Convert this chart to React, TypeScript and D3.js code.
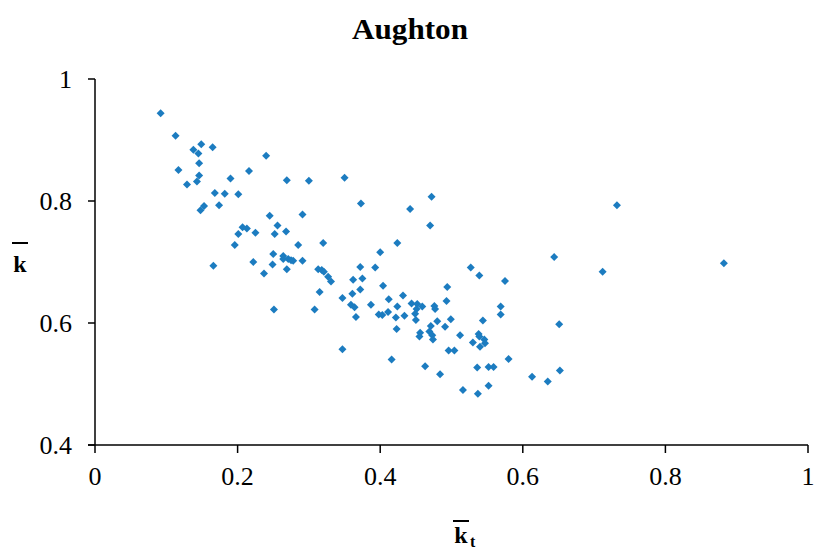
import React from "react";
import * as d3 from "d3";

const title = "Aughton";
const xTicks = [0, 0.2, 0.4, 0.6, 0.8, 1];
const yTicks = [0.4, 0.6, 0.8, 1];
const xTickLabels = ["0", "0.2", "0.4", "0.6", "0.8", "1"];
const yTickLabels = ["0.4", "0.6", "0.8", "1"];

const ktBar = [
  0.092, 0.113, 0.149, 0.138, 0.145, 0.165, 0.240, 0.146, 0.117, 0.216,
  0.146, 0.190, 0.143, 0.129, 0.168, 0.182, 0.201, 0.174, 0.153, 0.148,
  0.245, 0.256, 0.207, 0.213, 0.201, 0.225, 0.252, 0.269, 0.300, 0.350,
  0.373, 0.291, 0.268, 0.196, 0.285, 0.320, 0.400, 0.250, 0.264, 0.264,
  0.271, 0.275, 0.278, 0.222, 0.291, 0.249, 0.166, 0.269, 0.237, 0.372,
  0.393, 0.313, 0.318, 0.321, 0.327, 0.331, 0.362, 0.375, 0.372, 0.361,
  0.315, 0.347, 0.359, 0.364, 0.387, 0.398, 0.366, 0.251, 0.308, 0.472,
  0.442, 0.470, 0.424, 0.527, 0.539, 0.404, 0.494, 0.412, 0.432, 0.493,
  0.424, 0.444, 0.452, 0.459, 0.451, 0.449, 0.450, 0.476, 0.477, 0.403,
  0.411, 0.422, 0.434, 0.499, 0.480, 0.491, 0.471, 0.423, 0.456, 0.455,
  0.469, 0.473, 0.474, 0.512, 0.538, 0.539, 0.544, 0.569, 0.569, 0.530,
  0.546, 0.547, 0.540, 0.496, 0.504, 0.347, 0.416, 0.651, 0.463, 0.484,
  0.536, 0.552, 0.559, 0.580, 0.613, 0.635, 0.652, 0.516, 0.537, 0.552,
  0.732, 0.644, 0.712, 0.882, 0.575,
];

const kBar = [
  0.944, 0.907, 0.893, 0.884, 0.878, 0.888, 0.874, 0.862, 0.851, 0.849,
  0.842, 0.837, 0.832, 0.827, 0.813, 0.812, 0.811, 0.793, 0.792, 0.785,
  0.776, 0.760, 0.757, 0.755, 0.746, 0.748, 0.746, 0.834, 0.833, 0.838,
  0.796, 0.778, 0.750, 0.728, 0.728, 0.731, 0.716, 0.713, 0.710, 0.705,
  0.705, 0.703, 0.702, 0.700, 0.702, 0.696, 0.694, 0.688, 0.681, 0.692,
  0.691, 0.688, 0.687, 0.684, 0.676, 0.668, 0.671, 0.673, 0.655, 0.648,
  0.651, 0.641, 0.630, 0.626, 0.630, 0.614, 0.610, 0.622, 0.622, 0.807,
  0.787, 0.760, 0.731, 0.691, 0.678, 0.661, 0.659, 0.639, 0.645, 0.636,
  0.627, 0.632, 0.631, 0.627, 0.623, 0.615, 0.605, 0.628, 0.623, 0.613,
  0.618, 0.609, 0.612, 0.606, 0.603, 0.594, 0.595, 0.590, 0.584, 0.578,
  0.586, 0.580, 0.573, 0.580, 0.582, 0.578, 0.604, 0.627, 0.614, 0.568,
  0.573, 0.567, 0.561, 0.555, 0.555, 0.557, 0.540, 0.598, 0.529, 0.516,
  0.527, 0.528, 0.528, 0.541, 0.512, 0.504, 0.522, 0.490, 0.484, 0.497,
  0.793, 0.708, 0.684, 0.698, 0.669,
];

const W = 816;
const H = 552;
const FONT = "'Liberation Serif', 'Times New Roman', serif";
const COLOR = "#1c7cc0";

export default function App() {
  const x = d3.scaleLinear().domain([0, 1]).range([95, 808]);
  const y = d3.scaleLinear().domain([0.4, 1]).range([445, 79]);
  const pts = ktBar.map((v, i) => ({ x: v, y: kBar[i] }));
  const diamond = "M0,-4L4,0L0,4L-4,0Z";
  return (
    <svg
      width={W}
      height={H}
      style={{ position: "absolute", left: 0, top: 0, background: "#fff" }}
      fontFamily={FONT}
    >
      <rect x={0} y={0} width={W} height={H} fill="#fff" />
      <text
        x={352}
        y={39}
        fontSize={29}
        fontWeight="bold"
        textLength={116}
        lengthAdjust="spacingAndGlyphs"
      >
        {title}
      </text>
      {/* axes */}
      <line x1={x(0)} x2={x(0)} y1={y(1)} y2={y(0.4)} stroke="#000" strokeWidth={1.5} />
      <line x1={x(0) - 7} x2={x(1)} y1={y(0.4)} y2={y(0.4)} stroke="#000" strokeWidth={1.5} />
      {yTicks.map((t, i) => (
        <g key={"y" + i}>
          <line x1={x(0) - 7} x2={x(0)} y1={y(t)} y2={y(t)} stroke="#000" strokeWidth={1.5} />
          <text x={72} y={y(t) + 8.5} textAnchor="end" fontSize={26}>
            {yTickLabels[i]}
          </text>
        </g>
      ))}
      {xTicks.map((t, i) => (
        <g key={"x" + i}>
          <line x1={x(t)} x2={x(t)} y1={y(0.4)} y2={y(0.4) + 8} stroke="#000" strokeWidth={1.5} />
          <text x={x(t)} y={485} textAnchor="middle" fontSize={26}>
            {xTickLabels[i]}
          </text>
        </g>
      ))}
      {/* y label */}
      <line x1={12} x2={28} y1={243} y2={243} stroke="#000" strokeWidth={2} />
      <text x={20} y={272} textAnchor="middle" fontSize={24} fontWeight="bold">
        k
      </text>
      {/* x label */}
      <line x1={453} x2={469} y1={521} y2={521} stroke="#000" strokeWidth={2} />
      <text x={461} y={543} textAnchor="middle" fontSize={24} fontWeight="bold">
        k
      </text>
      <text x={470} y={547} fontSize={16} fontWeight="bold">
        t
      </text>
      {pts.map((p, i) => (
        <path key={i} d={diamond} transform={`translate(${x(p.x)},${y(p.y)})`} fill={COLOR} />
      ))}
    </svg>
  );
}
